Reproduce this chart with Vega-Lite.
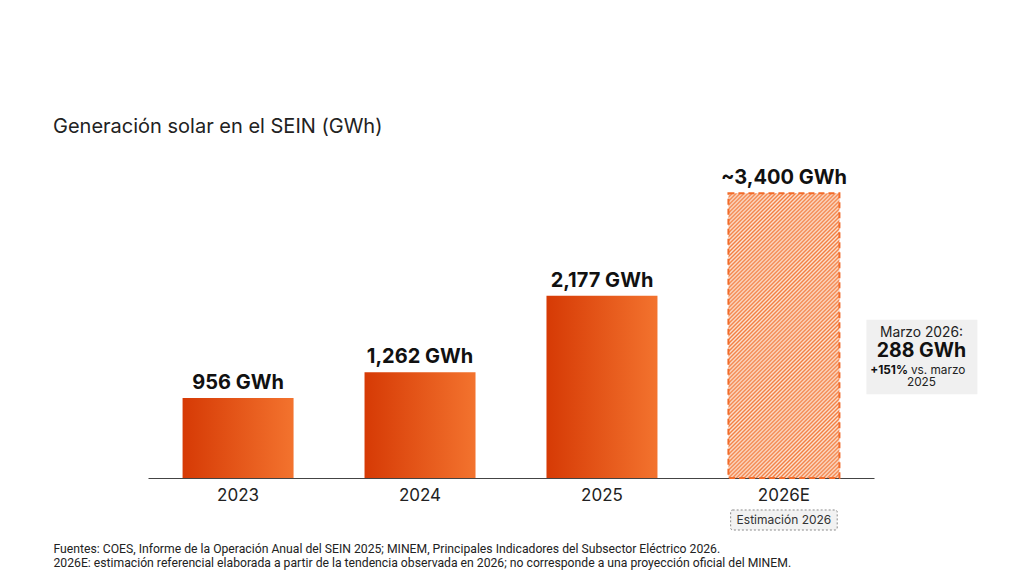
{
  "$schema": "https://vega.github.io/schema/vega-lite/v6.json",
  "autosize": "none",
  "padding": {"left": 148, "top": 143, "right": 150, "bottom": 94},
  "width": 726,
  "height": 335,
  "background": "white",
  "title": {
    "text": "Generación solar en el SEIN (GWh)",
    "anchor": "start",
    "frame": "group",
    "dx": -95,
    "offset": 6,
    "font": "Inter",
    "fontSize": 20,
    "fontWeight": "normal",
    "color": "#222222"
  },
  "data": {
    "values": [
      {"year": "2023", "value": 956, "label": "956 GWh", "tipo": "real"},
      {"year": "2024", "value": 1262, "label": "1,262 GWh", "tipo": "real"},
      {"year": "2025", "value": 2177, "label": "2,177 GWh", "tipo": "real"},
      {"year": "2026E", "value": 3400, "label": "~3,400 GWh", "tipo": "estimado"}
    ]
  },
  "encoding": {
    "x": {
      "field": "year",
      "type": "nominal",
      "sort": null,
      "scale": {"paddingInner": 0.39, "paddingOuter": 0.19},
      "axis": {
        "title": [
          "Fuentes: COES, Informe de la Operación Anual del SEIN 2025; MINEM, Principales Indicadores del Subsector Eléctrico 2026.",
          "2026E: estimación referencial elaborada a partir de la tendencia observada en 2026; no corresponde a una proyección oficial del MINEM."
        ],
        "titleX": -95,
        "titleY": 74,
        "titleAlign": "left",
        "titleAnchor": "start",
        "titleBaseline": "alphabetic",
        "titleFont": "Roboto",
        "titleFontSize": 12.2,
        "titleFontWeight": "normal",
        "titleColor": "#222222",
        "titleLineHeight": 14,
        "labelAngle": 0,
        "labelFont": "Inter",
        "labelFontSize": 17,
        "labelColor": "#222222",
        "labelPadding": 9,
        "ticks": false,
        "domainColor": "#444444",
        "domainWidth": 1.2
      }
    },
    "y": {
      "type": "quantitative",
      "scale": {"domain": [0, 4000], "nice": false},
      "axis": null
    }
  },
  "layer": [
    {
      "transform": [{"filter": "datum.tipo == 'real'"}],
      "mark": {
        "type": "bar",
        "fill": {
          "gradient": "linear",
          "x1": 0, "y1": 0, "x2": 1, "y2": 0,
          "stops": [
            {"offset": 0, "color": "#D63A05"},
            {"offset": 1, "color": "#F3732E"}
          ]
        }
      },
      "encoding": {"y": {"field": "value", "type": "quantitative"}}
    },
    {
      "transform": [{"filter": "datum.tipo == 'estimado'"}],
      "mark": {
        "type": "bar",
        "stroke": "#F26B2A",
        "strokeWidth": 2,
        "strokeDash": [6, 4],
        "fill": {
          "gradient": "linear",
          "x1": 0, "y1": 0, "x2": 0.47, "y2": 1.206,
          "stops": [
            {"offset": 0, "color": "#F27D40"}, {"offset": 0.005, "color": "#FCE3D3"},
            {"offset": 0.01, "color": "#F27D40"}, {"offset": 0.015, "color": "#FCE3D3"},
            {"offset": 0.02, "color": "#F27D40"}, {"offset": 0.025, "color": "#FCE3D3"},
            {"offset": 0.03, "color": "#F27D40"}, {"offset": 0.035, "color": "#FCE3D3"},
            {"offset": 0.04, "color": "#F27D40"}, {"offset": 0.045, "color": "#FCE3D3"},
            {"offset": 0.05, "color": "#F27D40"}, {"offset": 0.055, "color": "#FCE3D3"},
            {"offset": 0.06, "color": "#F27D40"}, {"offset": 0.065, "color": "#FCE3D3"},
            {"offset": 0.07, "color": "#F27D40"}, {"offset": 0.075, "color": "#FCE3D3"},
            {"offset": 0.08, "color": "#F27D40"}, {"offset": 0.085, "color": "#FCE3D3"},
            {"offset": 0.09, "color": "#F27D40"}, {"offset": 0.095, "color": "#FCE3D3"},
            {"offset": 0.1, "color": "#F27D40"}, {"offset": 0.105, "color": "#FCE3D3"},
            {"offset": 0.11, "color": "#F27D40"}, {"offset": 0.115, "color": "#FCE3D3"},
            {"offset": 0.12, "color": "#F27D40"}, {"offset": 0.125, "color": "#FCE3D3"},
            {"offset": 0.13, "color": "#F27D40"}, {"offset": 0.135, "color": "#FCE3D3"},
            {"offset": 0.14, "color": "#F27D40"}, {"offset": 0.145, "color": "#FCE3D3"},
            {"offset": 0.15, "color": "#F27D40"}, {"offset": 0.155, "color": "#FCE3D3"},
            {"offset": 0.16, "color": "#F27D40"}, {"offset": 0.165, "color": "#FCE3D3"},
            {"offset": 0.17, "color": "#F27D40"}, {"offset": 0.175, "color": "#FCE3D3"},
            {"offset": 0.18, "color": "#F27D40"}, {"offset": 0.185, "color": "#FCE3D3"},
            {"offset": 0.19, "color": "#F27D40"}, {"offset": 0.195, "color": "#FCE3D3"},
            {"offset": 0.2, "color": "#F27D40"}, {"offset": 0.205, "color": "#FCE3D3"},
            {"offset": 0.21, "color": "#F27D40"}, {"offset": 0.215, "color": "#FCE3D3"},
            {"offset": 0.22, "color": "#F27D40"}, {"offset": 0.225, "color": "#FCE3D3"},
            {"offset": 0.23, "color": "#F27D40"}, {"offset": 0.235, "color": "#FCE3D3"},
            {"offset": 0.24, "color": "#F27D40"}, {"offset": 0.245, "color": "#FCE3D3"},
            {"offset": 0.25, "color": "#F27D40"}, {"offset": 0.255, "color": "#FCE3D3"},
            {"offset": 0.26, "color": "#F27D40"}, {"offset": 0.265, "color": "#FCE3D3"},
            {"offset": 0.27, "color": "#F27D40"}, {"offset": 0.275, "color": "#FCE3D3"},
            {"offset": 0.28, "color": "#F27D40"}, {"offset": 0.285, "color": "#FCE3D3"},
            {"offset": 0.29, "color": "#F27D40"}, {"offset": 0.295, "color": "#FCE3D3"},
            {"offset": 0.3, "color": "#F27D40"}, {"offset": 0.305, "color": "#FCE3D3"},
            {"offset": 0.31, "color": "#F27D40"}, {"offset": 0.315, "color": "#FCE3D3"},
            {"offset": 0.32, "color": "#F27D40"}, {"offset": 0.325, "color": "#FCE3D3"},
            {"offset": 0.33, "color": "#F27D40"}, {"offset": 0.335, "color": "#FCE3D3"},
            {"offset": 0.34, "color": "#F27D40"}, {"offset": 0.345, "color": "#FCE3D3"},
            {"offset": 0.35, "color": "#F27D40"}, {"offset": 0.355, "color": "#FCE3D3"},
            {"offset": 0.36, "color": "#F27D40"}, {"offset": 0.365, "color": "#FCE3D3"},
            {"offset": 0.37, "color": "#F27D40"}, {"offset": 0.375, "color": "#FCE3D3"},
            {"offset": 0.38, "color": "#F27D40"}, {"offset": 0.385, "color": "#FCE3D3"},
            {"offset": 0.39, "color": "#F27D40"}, {"offset": 0.395, "color": "#FCE3D3"},
            {"offset": 0.4, "color": "#F27D40"}, {"offset": 0.405, "color": "#FCE3D3"},
            {"offset": 0.41, "color": "#F27D40"}, {"offset": 0.415, "color": "#FCE3D3"},
            {"offset": 0.42, "color": "#F27D40"}, {"offset": 0.425, "color": "#FCE3D3"},
            {"offset": 0.43, "color": "#F27D40"}, {"offset": 0.435, "color": "#FCE3D3"},
            {"offset": 0.44, "color": "#F27D40"}, {"offset": 0.445, "color": "#FCE3D3"},
            {"offset": 0.45, "color": "#F27D40"}, {"offset": 0.455, "color": "#FCE3D3"},
            {"offset": 0.46, "color": "#F27D40"}, {"offset": 0.465, "color": "#FCE3D3"},
            {"offset": 0.47, "color": "#F27D40"}, {"offset": 0.475, "color": "#FCE3D3"},
            {"offset": 0.48, "color": "#F27D40"}, {"offset": 0.485, "color": "#FCE3D3"},
            {"offset": 0.49, "color": "#F27D40"}, {"offset": 0.495, "color": "#FCE3D3"},
            {"offset": 0.5, "color": "#F27D40"}, {"offset": 0.505, "color": "#FCE3D3"},
            {"offset": 0.51, "color": "#F27D40"}, {"offset": 0.515, "color": "#FCE3D3"},
            {"offset": 0.52, "color": "#F27D40"}, {"offset": 0.525, "color": "#FCE3D3"},
            {"offset": 0.53, "color": "#F27D40"}, {"offset": 0.535, "color": "#FCE3D3"},
            {"offset": 0.54, "color": "#F27D40"}, {"offset": 0.545, "color": "#FCE3D3"},
            {"offset": 0.55, "color": "#F27D40"}, {"offset": 0.555, "color": "#FCE3D3"},
            {"offset": 0.56, "color": "#F27D40"}, {"offset": 0.565, "color": "#FCE3D3"},
            {"offset": 0.57, "color": "#F27D40"}, {"offset": 0.575, "color": "#FCE3D3"},
            {"offset": 0.58, "color": "#F27D40"}, {"offset": 0.585, "color": "#FCE3D3"},
            {"offset": 0.59, "color": "#F27D40"}, {"offset": 0.595, "color": "#FCE3D3"},
            {"offset": 0.6, "color": "#F27D40"}, {"offset": 0.605, "color": "#FCE3D3"},
            {"offset": 0.61, "color": "#F27D40"}, {"offset": 0.615, "color": "#FCE3D3"},
            {"offset": 0.62, "color": "#F27D40"}, {"offset": 0.625, "color": "#FCE3D3"},
            {"offset": 0.63, "color": "#F27D40"}, {"offset": 0.635, "color": "#FCE3D3"},
            {"offset": 0.64, "color": "#F27D40"}, {"offset": 0.645, "color": "#FCE3D3"},
            {"offset": 0.65, "color": "#F27D40"}, {"offset": 0.655, "color": "#FCE3D3"},
            {"offset": 0.66, "color": "#F27D40"}, {"offset": 0.665, "color": "#FCE3D3"},
            {"offset": 0.67, "color": "#F27D40"}, {"offset": 0.675, "color": "#FCE3D3"},
            {"offset": 0.68, "color": "#F27D40"}, {"offset": 0.685, "color": "#FCE3D3"},
            {"offset": 0.69, "color": "#F27D40"}, {"offset": 0.695, "color": "#FCE3D3"},
            {"offset": 0.7, "color": "#F27D40"}, {"offset": 0.705, "color": "#FCE3D3"},
            {"offset": 0.71, "color": "#F27D40"}, {"offset": 0.715, "color": "#FCE3D3"},
            {"offset": 0.72, "color": "#F27D40"}, {"offset": 0.725, "color": "#FCE3D3"},
            {"offset": 0.73, "color": "#F27D40"}, {"offset": 0.735, "color": "#FCE3D3"},
            {"offset": 0.74, "color": "#F27D40"}, {"offset": 0.745, "color": "#FCE3D3"},
            {"offset": 0.75, "color": "#F27D40"}, {"offset": 0.755, "color": "#FCE3D3"},
            {"offset": 0.76, "color": "#F27D40"}, {"offset": 0.765, "color": "#FCE3D3"},
            {"offset": 0.77, "color": "#F27D40"}, {"offset": 0.775, "color": "#FCE3D3"},
            {"offset": 0.78, "color": "#F27D40"}, {"offset": 0.785, "color": "#FCE3D3"},
            {"offset": 0.79, "color": "#F27D40"}, {"offset": 0.795, "color": "#FCE3D3"},
            {"offset": 0.8, "color": "#F27D40"}, {"offset": 0.805, "color": "#FCE3D3"},
            {"offset": 0.81, "color": "#F27D40"}, {"offset": 0.815, "color": "#FCE3D3"},
            {"offset": 0.82, "color": "#F27D40"}, {"offset": 0.825, "color": "#FCE3D3"},
            {"offset": 0.83, "color": "#F27D40"}, {"offset": 0.835, "color": "#FCE3D3"},
            {"offset": 0.84, "color": "#F27D40"}, {"offset": 0.845, "color": "#FCE3D3"},
            {"offset": 0.85, "color": "#F27D40"}, {"offset": 0.855, "color": "#FCE3D3"},
            {"offset": 0.86, "color": "#F27D40"}, {"offset": 0.865, "color": "#FCE3D3"},
            {"offset": 0.87, "color": "#F27D40"}, {"offset": 0.875, "color": "#FCE3D3"},
            {"offset": 0.88, "color": "#F27D40"}, {"offset": 0.885, "color": "#FCE3D3"},
            {"offset": 0.89, "color": "#F27D40"}, {"offset": 0.895, "color": "#FCE3D3"},
            {"offset": 0.9, "color": "#F27D40"}, {"offset": 0.905, "color": "#FCE3D3"},
            {"offset": 0.91, "color": "#F27D40"}, {"offset": 0.915, "color": "#FCE3D3"},
            {"offset": 0.92, "color": "#F27D40"}, {"offset": 0.925, "color": "#FCE3D3"},
            {"offset": 0.93, "color": "#F27D40"}, {"offset": 0.935, "color": "#FCE3D3"},
            {"offset": 0.94, "color": "#F27D40"}, {"offset": 0.945, "color": "#FCE3D3"},
            {"offset": 0.95, "color": "#F27D40"}, {"offset": 0.955, "color": "#FCE3D3"},
            {"offset": 0.96, "color": "#F27D40"}, {"offset": 0.965, "color": "#FCE3D3"},
            {"offset": 0.97, "color": "#F27D40"}, {"offset": 0.975, "color": "#FCE3D3"},
            {"offset": 0.98, "color": "#F27D40"}, {"offset": 0.985, "color": "#FCE3D3"},
            {"offset": 0.99, "color": "#F27D40"}, {"offset": 0.995, "color": "#FCE3D3"},
            {"offset": 1, "color": "#F27D40"}
          ]
        }
      },
      "encoding": {"y": {"field": "value", "type": "quantitative"}}
    },
    {
      "mark": {
        "type": "text",
        "baseline": "bottom",
        "dy": -5,
        "font": "Inter",
        "fontSize": 20,
        "fontWeight": "bold",
        "color": "#111111"
      },
      "encoding": {
        "y": {"field": "value", "type": "quantitative"},
        "text": {"field": "label", "type": "nominal"}
      }
    },
    {
      "transform": [{"filter": "datum.tipo == 'estimado'"}],
      "mark": {
        "type": "bar",
        "width": {"band": 0.96},
        "fill": "#F2F2F2",
        "stroke": "#8A8A8A",
        "strokeWidth": 1,
        "strokeDash": [2, 2],
        "cornerRadius": 2
      },
      "encoding": {"y": {"datum": -382}, "y2": {"datum": -621}}
    },
    {
      "transform": [{"filter": "datum.tipo == 'estimado'"}],
      "mark": {
        "type": "text",
        "text": "Estimación 2026",
        "baseline": "middle",
        "font": "Inter",
        "fontSize": 12,
        "color": "#333333"
      },
      "encoding": {"y": {"datum": -501}}
    },
    {
      "transform": [{"filter": "datum.tipo == 'estimado'"}],
      "mark": {"type": "bar", "xOffset": 138, "fill": "#F0F0F0"},
      "encoding": {"y": {"datum": 1890}, "y2": {"datum": 1000}}
    },
    {
      "transform": [{"filter": "datum.tipo == 'estimado'"}],
      "mark": {
        "type": "text",
        "text": "Marzo 2026:",
        "dx": 137.5,
        "baseline": "middle",
        "font": "Inter",
        "fontSize": 13.8,
        "color": "#222222"
      },
      "encoding": {"y": {"datum": 1731}}
    },
    {
      "transform": [{"filter": "datum.tipo == 'estimado'"}],
      "mark": {
        "type": "text",
        "text": "288 GWh",
        "dx": 137.5,
        "baseline": "middle",
        "font": "Inter",
        "fontSize": 19.5,
        "fontWeight": "bold",
        "color": "#111111"
      },
      "encoding": {"y": {"datum": 1516}}
    },
    {
      "transform": [{"filter": "datum.tipo == 'estimado'"}],
      "mark": {
        "type": "text",
        "text": "+151%",
        "dx": 124,
        "align": "right",
        "baseline": "middle",
        "font": "Inter",
        "fontSize": 11.8,
        "fontWeight": "bold",
        "color": "#111111"
      },
      "encoding": {"y": {"datum": 1290}}
    },
    {
      "transform": [{"filter": "datum.tipo == 'estimado'"}],
      "mark": {
        "type": "text",
        "text": "vs. marzo",
        "dx": 127,
        "align": "left",
        "baseline": "middle",
        "font": "Inter",
        "fontSize": 11.8,
        "color": "#222222"
      },
      "encoding": {"y": {"datum": 1290}}
    },
    {
      "transform": [{"filter": "datum.tipo == 'estimado'"}],
      "mark": {
        "type": "text",
        "text": "2025",
        "dx": 137.5,
        "baseline": "middle",
        "font": "Inter",
        "fontSize": 11.8,
        "color": "#222222"
      },
      "encoding": {"y": {"datum": 1146}}
    }
  ],
  "config": {
    "view": {"stroke": null}
  }
}
